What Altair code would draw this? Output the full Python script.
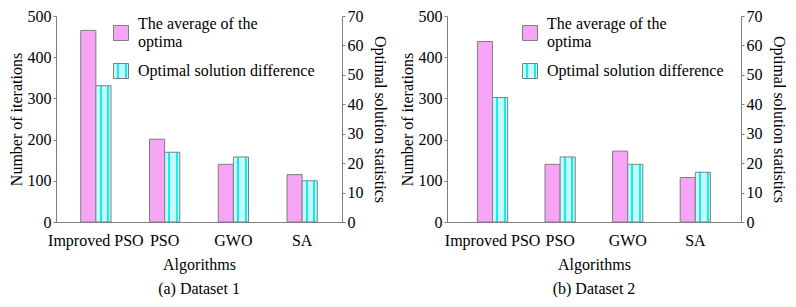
import altair as alt
import pandas as pd

algorithms = ["Improved PSO", "PSO", "GWO", "SA"]
series = ["The average of the optima", "Optimal solution difference"]

# Dataset 1
a_avg = [465, 201, 140, 115]          # left axis (Number of iterations)
a_diff = [46.3, 23.7, 22.1, 14.0]     # right axis (Optimal solution statistics)
# Dataset 2
b_avg = [438, 140, 172, 108]
b_diff = [42.3, 22.1, 19.6, 16.9]

left_ticks = [0, 100, 200, 300, 400, 500]
right_ticks = [0, 10, 20, 30, 40, 50, 60, 70]

PINK = "#f6a4f6"
CYAN = "#86f4f4"
GRAY = "#7f7f7f"
FONT = "Liberation Serif"
H = 206

cyan_fill = alt.LinearGradient(
    gradient="linear",
    x1=0, y1=0, x2=1, y2=0,
    stops=[
        alt.GradientStop(offset=0.0, color="#c4fbfb"),
        alt.GradientStop(offset=0.25, color="#c4fbfb"),
        alt.GradientStop(offset=0.25, color="#10eeee"),
        alt.GradientStop(offset=0.38, color="#10eeee"),
        alt.GradientStop(offset=0.38, color="#c4fbfb"),
        alt.GradientStop(offset=0.75, color="#c4fbfb"),
        alt.GradientStop(offset=0.75, color="#10eeee"),
        alt.GradientStop(offset=0.88, color="#10eeee"),
        alt.GradientStop(offset=0.88, color="#c4fbfb"),
        alt.GradientStop(offset=1.0, color="#c4fbfb"),
    ],
)


def legend(x, y, **kw):
    return alt.Legend(
        title=None,
        orient="none",
        legendX=x,
        legendY=y,
        symbolType="square",
        symbolSize=225,
        symbolStrokeColor=GRAY,
        symbolStrokeWidth=1,
        symbolOpacity=1,
        labelFont=FONT,
        labelFontSize=16,
        labelColor="black",
        labelLimit=400,
        labelOffset=9,
        **kw,
    )


def panel(avg, diff, caption, width, pad_in, pad_out, legend_x, left_tp):
    rows = []
    for i, a in enumerate(algorithms):
        rows.append({"Algorithm": a, "Series": series[0], "Value": avg[i]})
        rows.append({"Algorithm": a, "Series": series[1], "Value": diff[i]})
    df = pd.DataFrame(rows)

    base = alt.Chart(df).encode(
        x=alt.X(
            "Algorithm:N",
            sort=algorithms,
            scale=alt.Scale(paddingInner=pad_in, paddingOuter=pad_out),
            axis=alt.Axis(
                title="Algorithms",
                labelAngle=0,
                ticks=False,
                tickSize=0,
                labelPadding=10,
                titlePadding=8,
                domainColor=GRAY,
                labelFont=FONT,
                labelFontSize=16,
                labelColor="black",
            ),
        ),
        xOffset=alt.XOffset("Series:N", sort=series, scale=alt.Scale(domain=series)),
    )

    pink = base.transform_filter(alt.datum.Series == series[0]).mark_bar(
        stroke=GRAY, strokeWidth=1, opacity=1
    ).encode(
        y=alt.Y(
            "Value:Q",
            scale=alt.Scale(domain=[0, 500], nice=False),
            axis=alt.Axis(
                title="Number of iterations",
                values=left_ticks,
                grid=False,
                orient="left",
                tickSize=3,
                domainColor=GRAY,
                tickColor=GRAY,
                titlePadding=left_tp,
                labelFont=FONT,
                labelFontSize=16,
                labelColor="black",
            ),
        ),
        color=alt.Color(
            "Series:N",
            scale=alt.Scale(domain=[series[0]], range=[PINK]),
            legend=legend(
                legend_x, 9,
                labelBaseline="line-bottom",
                labelExpr="['The average of the', 'optima']",
            ),
        ),
    )

    cyan = base.transform_filter(alt.datum.Series == series[1]).mark_bar(
        strokeWidth=1, opacity=1
    ).encode(
        y=alt.Y(
            "Value:Q",
            scale=alt.Scale(domain=[0, 70], nice=False),
            axis=alt.Axis(
                title="Optimal solution statistics",
                values=right_ticks,
                grid=False,
                orient="right",
                tickSize=3,
                domainColor=GRAY,
                tickColor=GRAY,
                titlePadding=8,
                labelFont=FONT,
                labelFontSize=16,
                labelColor="black",
            ),
        ),
        fill=alt.value(cyan_fill),
        stroke=alt.Stroke(
            "Series:N",
            scale=alt.Scale(domain=[series[1]], range=[GRAY]),
            legend=legend(legend_x, 47, symbolFillColor=CYAN),
        ),
    )

    return alt.layer(pink, cyan).resolve_scale(y="independent").properties(
        width=width,
        height=H,
        title=alt.TitleParams(
            caption, orient="bottom", anchor="middle", font=FONT, fontSize=16,
            fontWeight="normal", color="black", offset=9,
        ),
    )


pa = panel(a_avg, a_diff, "(a) Dataset 1", 286, 0.56, 0.36, 57, 3)
pb = panel(b_avg, b_diff, "(b) Dataset 2", 294, 0.55, 0.45, 75, 3)

chart = alt.hconcat(pa, pb, spacing=12).resolve_scale(
    color="independent", stroke="independent"
).properties(
    padding={"left": 0, "top": 0, "right": 0, "bottom": 0}
).configure_view(stroke=None).configure_axis(
    labelFont=FONT,
    labelFontSize=16,
    labelColor="black",
    titleFont=FONT,
    titleFontSize=16,
    titleFontWeight="normal",
    titleColor="black",
).configure_title(font=FONT)

chart.save("out.html", embed_options={"renderer": "svg", "actions": False})
